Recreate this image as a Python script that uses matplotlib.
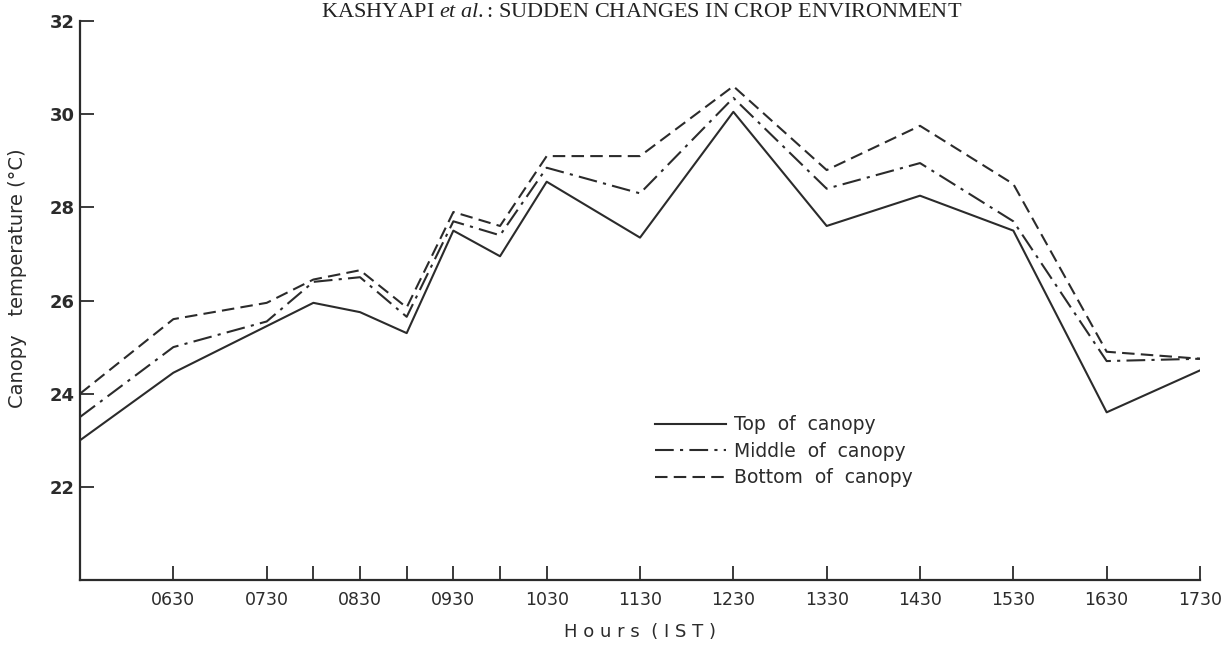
import matplotlib
matplotlib.use("Agg")
import matplotlib.pyplot as plt

plt.rcParams["mathtext.fontset"] = "custom"
plt.rcParams["mathtext.it"] = "Liberation Serif:italic"
plt.rcParams["mathtext.rm"] = "Liberation Serif"

# observation times (IST) and canopy temperatures, deg C
times = ["0530", "0630", "0730", "0800", "0830", "0900", "0930", "1000",
         "1030", "1130", "1230", "1330", "1430", "1530", "1630", "1730"]
top_canopy = [23.0, 24.45, 25.45, 25.95, 25.75, 25.3, 27.5, 26.95,
              28.55, 27.35, 30.05, 27.6, 28.25, 27.5, 23.6, 24.5]
middle_canopy = [23.5, 25.0, 25.55, 26.4, 26.5, 25.65, 27.7, 27.4,
                 28.85, 28.3, 30.35, 28.4, 28.95, 27.7, 24.7, 24.75]
bottom_canopy = [24.0, 25.6, 25.95, 26.45, 26.65, 25.85, 27.9, 27.6,
                 29.1, 29.1, 30.6, 28.8, 29.75, 28.5, 24.9, 24.75]

tick_times = ["0630", "0730", "0800", "0830", "0900", "0930", "1000", "1030",
              "1130", "1230", "1330", "1430", "1530", "1630", "1730"]
tick_labels = ["0630", "0730", "", "0830", "", "0930", "", "1030",
               "1130", "1230", "1330", "1430", "1530", "1630", "1730"]
y_ticks = [22, 24, 26, 28, 30, 32]


def to_hours(t):
    return int(t[:2]) + int(t[2:]) / 60.0


x = [to_hours(t) for t in times]
ink = "#2b2b2b"

fig = plt.figure(figsize=(12.22, 6.52), dpi=100)
ax = fig.add_axes([0.0655, 0.1104, 0.9165, 0.8574])

ax.plot(x, top_canopy, color=ink, lw=1.5, ls="-", label="Top  of  canopy")
ax.plot(x, middle_canopy, color=ink, lw=1.5, ls=(0, (9, 3, 1.5, 3)),
        label="Middle  of  canopy")
ax.plot(x, bottom_canopy, color=ink, lw=1.5, ls=(0, (6, 3)),
        label="Bottom  of  canopy")

ax.set_xlim(5.5, 17.5)
ax.set_ylim(20, 32)
ax.set_xticks([to_hours(t) for t in tick_times])
ax.set_xticklabels(tick_labels, fontsize=12.5, color=ink)
ax.set_yticks(y_ticks)
ax.set_yticklabels([str(v) for v in y_ticks], fontsize=13, fontweight="bold",
                   color=ink)
ax.tick_params(axis="both", direction="in", length=10, width=1.3, color=ink)
ax.tick_params(axis="x", pad=8)
ax.tick_params(axis="y", pad=4)

for side in ["top", "right"]:
    ax.spines[side].set_visible(False)
for side in ["left", "bottom"]:
    ax.spines[side].set_linewidth(1.6)
    ax.spines[side].set_color(ink)

ax.set_ylabel("Canopy   temperature (°C)", fontsize=14, color=ink, labelpad=14)
ax.yaxis.set_label_coords(-0.047, 0.54)
ax.set_xlabel("H o u r s  ( I S T )", fontsize=13, color=ink, labelpad=10)

ax.legend(loc="upper left", bbox_to_anchor=(0.498, 0.325), frameon=False,
          fontsize=13.5, handlelength=3.8, handletextpad=0.45, labelspacing=0.4,
          labelcolor=ink)

fig.text(0.525, 0.974, "KASHYAPI $\\mathit{et\\ al.}$: SUDDEN CHANGES IN CROP ENVIRONMENT",
         ha="center", va="baseline", fontsize=16, family="Liberation Serif",
         color="#222222")

fig.savefig("out.png", dpi=100)
